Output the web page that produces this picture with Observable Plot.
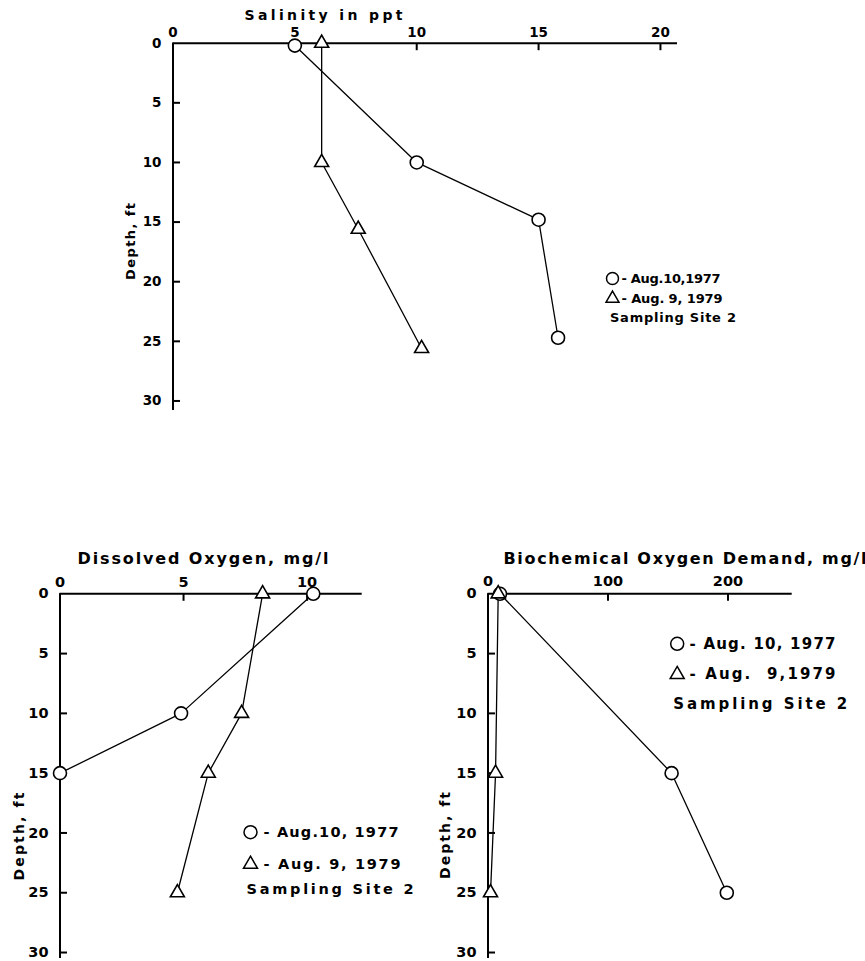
<!DOCTYPE html>
<html><head><meta charset="utf-8">
<script src="https://cdn.jsdelivr.net/npm/d3@7"></script>
<script src="https://cdn.jsdelivr.net/npm/@observablehq/plot@0.6"></script>
<style>
body{margin:0;background:#fff;}
#wrap{position:relative;width:865px;height:961px;overflow:hidden;background:#fff;}
#wrap svg{position:absolute;overflow:visible;}
</style></head><body><div id="wrap"></div>
<script>
// ---------- data ----------
const depthTicks = [0, 5, 10, 15, 20, 25, 30];
const salinityTicks = [0, 5, 10, 15, 20];
const doTicks = [0, 5, 10];
const bodTicks = [0, 100, 200];

const salDepth1977 = [0.2, 10, 14.8, 24.7];
const salValue1977 = [5.0, 10.0, 15.0, 15.8];
const salDepth1979 = [0, 10, 15.6, 25.6];
const salValue1979 = [6.1, 6.1, 7.6, 10.2];

const doDepth1977 = [0, 10, 15];
const doValue1977 = [10.25, 4.9, 0.0];
const doDepth1979 = [0, 10, 15, 25];
const doValue1979 = [8.2, 7.35, 6.0, 4.75];

const bodDepth1977 = [0, 15, 25];
const bodValue1977 = [10, 153, 199];
const bodDepth1979 = [0, 15, 25];
const bodValue1979 = [8.5, 6.3, 2.1];

const titles = ["Salinity in ppt", "Dissolved Oxygen, mg/l", "Biochemical Oxygen Demand, mg/l"];
const depthLabel = "Depth, ft";
const legend1977 = ["- Aug.10,1977", "- Aug.10, 1977", "- Aug. 10, 1977"];
const legend1979 = ["- Aug. 9, 1979", "- Aug. 9, 1979", "- Aug.  9,1979"];
const siteLabel = "Sampling Site 2";

// ---------- helpers ----------
const FONT = "'DejaVu Sans', sans-serif";
const rows = (vals, depths) => vals.map((v, i) => ({v, d: depths[i]}));
const TICK = 7;
const tickDown = {draw(ctx) { ctx.moveTo(0, 0); ctx.lineTo(0, TICK); }};
const tickRight = {draw(ctx) { ctx.moveTo(0, 0); ctx.lineTo(TICK, 0); }};

function panel(c) {
  const s77 = rows(c.v77, c.d77), s79 = rows(c.v79, c.d79);
  const svg = Plot.plot({
    width: c.width, height: c.height,
    marginLeft: c.ml, marginRight: c.mr, marginTop: c.mt, marginBottom: c.mb,
    style: {fontFamily: FONT, fontWeight: "bold", color: "#000", background: "transparent", overflow: "visible"},
    x: {domain: [0, c.xMax]},
    y: {domain: [0, c.yMax], reverse: true},
    marks: [
      Plot.ruleY([0], {strokeWidth: 2}),
      Plot.ruleX([0], {strokeWidth: 2}),
      Plot.axisX(c.xTicks, {anchor: "top", tickSize: 0, tickPadding: c.xPad, fontSize: c.tickFont, label: null}),
      Plot.axisY(depthTicks, {anchor: "left", tickSize: 0, tickPadding: 11.5, fontSize: c.tickFont, label: null}),
      Plot.dot(c.xTicks.filter(t => t > 0), {x: t => t, y: () => 0, symbol: tickDown, r: 1, fill: "none", stroke: "#000", strokeWidth: 2}),
      Plot.dot(depthTicks.filter(t => t > 0), {x: () => 0, y: t => t, symbol: tickRight, r: 1, fill: "none", stroke: "#000", strokeWidth: 2}),
      Plot.line(s77, {x: "v", y: "d", stroke: "#000", strokeWidth: 1.3}),
      Plot.line(s79, {x: "v", y: "d", stroke: "#000", strokeWidth: 1.3}),
      Plot.dot(s77, {x: "v", y: "d", r: 6.5, fill: "white", stroke: "#000", strokeWidth: 1.6}),
      Plot.dot(s79, {x: "v", y: "d", symbol: "triangle", r: 5.2, fill: "white", stroke: "#000", strokeWidth: 1.6}),
      Plot.text([c.title], {frameAnchor: "top-left", dx: c.title_dx, dy: c.title_dy, textAnchor: "start", lineAnchor: "middle", fontSize: c.titleFont}),
      Plot.text([depthLabel], {frameAnchor: "top-left", dx: c.dep_dx, dy: c.dep_dy, rotate: -90, textAnchor: "middle", lineAnchor: "middle", fontSize: c.depFont}),
      Plot.dot([0], {frameAnchor: "top-left", dx: c.sym_dx, dy: c.leg_dy[0], r: c.symR, fill: "white", stroke: "#000", strokeWidth: 1.5}),
      Plot.dot([0], {frameAnchor: "top-left", dx: c.sym_dx, dy: c.leg_dy[1], r: c.symR * 0.8, symbol: "triangle", fill: "white", stroke: "#000", strokeWidth: 1.5}),
      Plot.text([c.l77], {frameAnchor: "top-left", dx: c.txt_dx, dy: c.leg_dy[0], textAnchor: "start", lineAnchor: "middle", fontSize: c.legFont}),
      Plot.text([c.l79], {frameAnchor: "top-left", dx: c.txt_dx, dy: c.leg_dy[1], textAnchor: "start", lineAnchor: "middle", fontSize: c.legFont}),
      Plot.text([siteLabel], {frameAnchor: "top-left", dx: c.site_dx, dy: c.leg_dy[2], textAnchor: "start", lineAnchor: "middle", fontSize: c.legFont})
    ]
  });
  const fit = (str, len) => d3.select(svg).selectAll("text")
    .filter(function() { return this.textContent === str; })
    .attr("textLength", len).attr("lengthAdjust", "spacing");
  fit(c.title, c.titleLen); fit(depthLabel, c.depLen);
  fit(c.l77, c.l77Len); fit(c.l79, c.l79Len); fit(siteLabel, c.siteLen);
  d3.select(svg).style("left", c.left + "px").style("top", c.top + "px");
  return svg;
}

const wrap = document.getElementById("wrap");

wrap.appendChild(panel({
  left: 0, top: 0, width: 865, height: 420, ml: 172.5, mr: 188, mt: 42.7, mb: 10,
  xMax: 20.7, yMax: 30.8, xTicks: salinityTicks, xPad: 6.7, tickFont: 13.5,
  v77: salValue1977, d77: salDepth1977, v79: salValue1979, d79: salDepth1979,
  title: titles[0], title_dx: 71.5, title_dy: -27.7, titleFont: 14, titleLen: 158,
  dep_dx: -42.5, dep_dy: 198.3, depFont: 13, depLen: 77,
  sym_dx: 439.5, txt_dx: 448.5, site_dx: 437, leg_dy: [235.3, 255.3, 274.3], symR: 6, legFont: 13,
  l77: legend1977[0], l79: legend1979[0], l77Len: 99, l79Len: 101, siteLen: 126
}));

wrap.appendChild(panel({
  left: 0, top: 480, width: 430, height: 481, ml: 59.5, mr: 68.3, mt: 113.3, mb: 3,
  xMax: 12.23, yMax: 30.5, xTicks: doTicks, xPad: 7.3, tickFont: 14.5,
  v77: doValue1977, d77: doDepth1977, v79: doValue1979, d79: doDepth1979,
  title: titles[1], title_dx: 17.5, title_dy: -35.3, titleFont: 16, titleLen: 251,
  dep_dx: -40.7, dep_dy: 242.7, depFont: 14, depLen: 88,
  sym_dx: 190.5, txt_dx: 203.5, site_dx: 186.5, leg_dy: [238.4, 270.5, 295.9], symR: 6.5, legFont: 14.5,
  l77: legend1977[1], l79: legend1979[1], l77Len: 135, l79Len: 137, siteLen: 167
}));

wrap.appendChild(panel({
  left: 430, top: 480, width: 435, height: 481, ml: 57.5, mr: 73.3, mt: 113.3, mb: 3,
  xMax: 253.5, yMax: 30.5, xTicks: bodTicks, xPad: 8, tickFont: 14.5,
  v77: bodValue1977, d77: bodDepth1977, v79: bodValue1979, d79: bodDepth1979,
  title: titles[2], title_dx: 15.5, title_dy: -35.3, titleFont: 16, titleLen: 363,
  dep_dx: -42.5, dep_dy: 241.7, depFont: 14, depLen: 87,
  sym_dx: 189.2, txt_dx: 201.5, site_dx: 185.2, leg_dy: [50, 80.7, 110], symR: 6.5, legFont: 15,
  l77: legend1977[2], l79: legend1979[2], l77Len: 146, l79Len: 146, siteLen: 174
}));
</script></body></html>
